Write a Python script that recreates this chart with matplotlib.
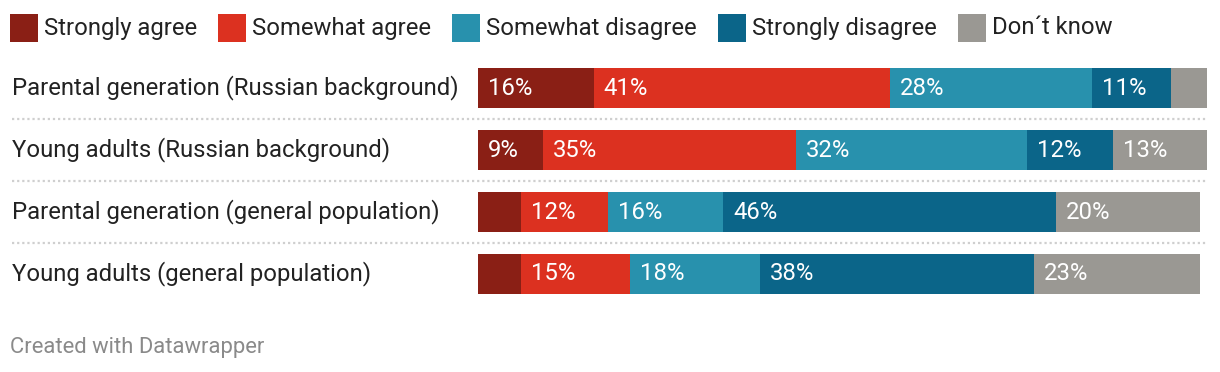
import matplotlib
matplotlib.use("Agg")
import matplotlib.pyplot as plt
import matplotlib.transforms as mtransforms
from matplotlib.patches import Rectangle
from matplotlib.lines import Line2D

plt.rcParams['font.family'] = ['Roboto', 'DejaVu Sans']

# data
groups = [
    "Parental generation (Russian background)",
    "Young adults (Russian background)",
    "Parental generation (general population)",
    "Young adults (general population)",
]
categories = ["Strongly agree", "Somewhat agree", "Somewhat disagree",
              "Strongly disagree", "Don\u00b4t know"]
strongly_agree = [16, 9, 6, 6]
somewhat_agree = [41, 35, 12, 15]
somewhat_disagree = [28, 32, 16, 18]
strongly_disagree = [11, 12, 46, 38]
dont_know = [5, 13, 20, 23]
series = [strongly_agree, somewhat_agree, somewhat_disagree, strongly_disagree, dont_know]
colors = ["#8a1f15", "#dc3120", "#2891ad", "#0b6589", "#9a9893"]

FS = 17.2
W, H = 1220, 372
fig = plt.figure(figsize=(W / 100, H / 100), dpi=100)
fig.patch.set_facecolor("white")

# bar area in pixels: x 478..1208, rows centred at 88 + 62*i
ax = fig.add_axes([478 / W, (H - 305) / H, 730 / W, 248 / H])
ax.set_xlim(0, 730 / 7.22)
ax.set_ylim(len(groups) - 0.5, -0.5)
ax.axis("off")

rows = list(range(len(groups)))
left = [0] * len(groups)
off = mtransforms.offset_copy(ax.transData, fig=fig, x=10, y=0, units="dots")
for vals, col in zip(series, colors):
    ax.barh(rows, vals, left=left, height=40 / 62, color=col, linewidth=0)
    for r, (v, l) in enumerate(zip(vals, left)):
        if v >= 9:
            ax.text(l, r, f"{v}%", color="white", fontsize=FS, va="center",
                    ha="left", transform=off)
    left = [a + b for a, b in zip(left, vals)]

# row labels and dotted separators
blend = mtransforms.blended_transform_factory(fig.transFigure, ax.transData)
for r, name in enumerate(groups):
    ax.text(12 / W, r, name, transform=blend, fontsize=FS, color="#222222",
            va="center", ha="left")
for r in range(len(groups) - 1):
    ax.add_line(Line2D([12 / W, 1208 / W], [r + 0.5, r + 0.5], transform=blend,
                       color="#cfcfcf", linewidth=1.6, linestyle=(0, (1, 1.3)),
                       clip_on=False))

# legend
renderer = fig.canvas.get_renderer()
x = 10
for cat, col in zip(categories, colors):
    fig.add_artist(Rectangle((x / W, (H - 42) / H), 28 / W, 28 / H,
                             transform=fig.transFigure, color=col, linewidth=0))
    t = fig.text((x + 34) / W, (H - 28) / H, cat, fontsize=FS, color="#222222",
                 va="center", ha="left")
    bb = t.get_window_extent(renderer)
    x = bb.x1 + 21

fig.text(10 / W, (H - 347) / H, "Created with Datawrapper", fontsize=15.8,
         color="#8a8a8a", va="center", ha="left")

fig.savefig("out.png", dpi=100)
